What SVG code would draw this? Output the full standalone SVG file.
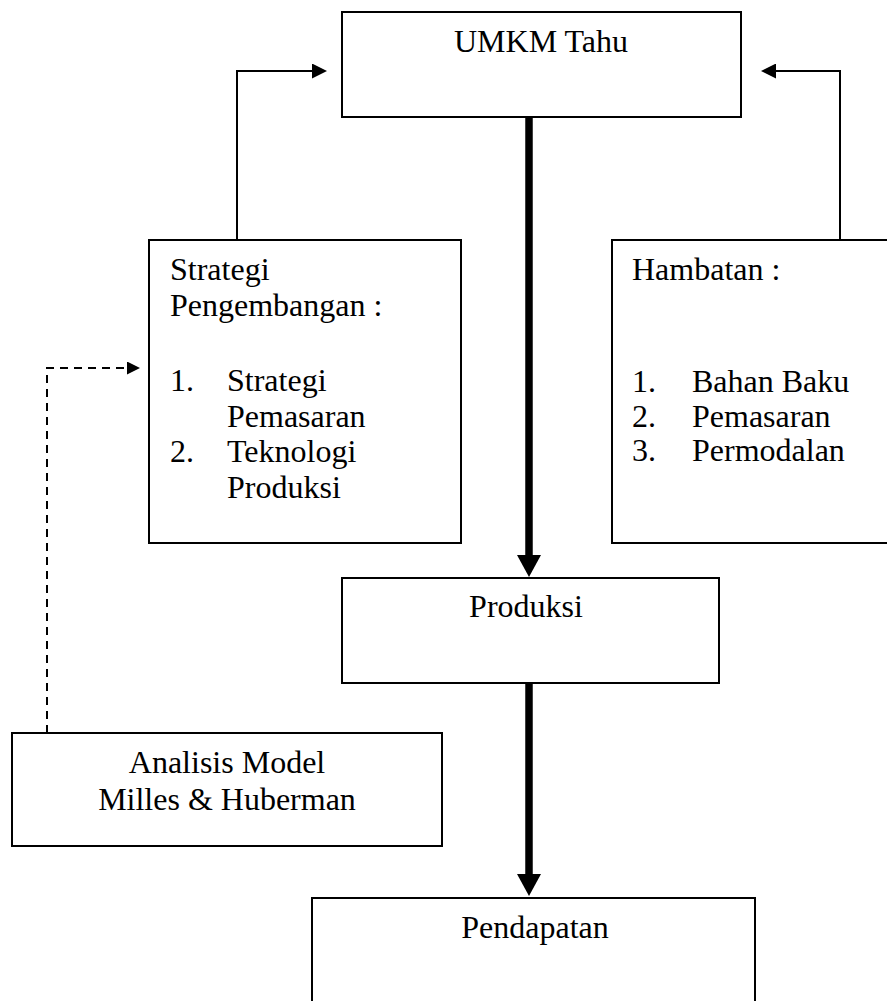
<svg xmlns="http://www.w3.org/2000/svg" width="887" height="1001" viewBox="0 0 887 1001">
<style>
.box{fill:#fff;stroke:#000;stroke-width:2}
.t{font-family:"Liberation Serif","Times New Roman",serif;font-size:32px;fill:#000}
.c{text-anchor:middle}
.thin{fill:none;stroke:#000;stroke-width:2}
.dash{fill:none;stroke:#000;stroke-width:2;stroke-dasharray:8 6}
.thick{fill:none;stroke:#000;stroke-width:7.5}
</style>
<defs>
<marker id="ah" markerUnits="userSpaceOnUse" markerWidth="15" markerHeight="15" refX="0" refY="7.5" orient="auto">
<path d="M0,0 L15,7.5 L0,15 z" fill="#000"/>
</marker>
<marker id="ahs" markerUnits="userSpaceOnUse" markerWidth="13" markerHeight="13" refX="0" refY="6.5" orient="auto">
<path d="M0,0 L13,6.5 L0,13 z" fill="#000"/>
</marker>
<marker id="ahb" markerUnits="userSpaceOnUse" markerWidth="22" markerHeight="24" refX="0" refY="12" orient="auto">
<path d="M0,0 L22,12 L0,24 z" fill="#000"/>
</marker>
</defs>
<rect width="887" height="1001" fill="#fff"/>
<g id="connectors">
<path class="thin" d="M237,240 V71 H312" marker-end="url(#ah)"/>
<path class="thin" d="M840,240 V71 H776" marker-end="url(#ah)"/>
<path class="thick" d="M529,117 V555" marker-end="url(#ahb)"/>
<path class="thick" d="M529,684 V874" marker-end="url(#ahb)"/>
<path class="dash" d="M47,733 V368 H127" marker-end="url(#ahs)"/>
</g>
<g id="umkm">
<rect class="box" x="342" y="12" width="399" height="105"/>
<text class="t c" x="541" y="52">UMKM Tahu</text>
</g>
<g id="strategi">
<rect class="box" x="149" y="240" width="312" height="303"/>
<text class="t" x="170" y="280">Strategi</text>
<text class="t" x="170" y="316">Pengembangan :</text>
<text class="t" x="170" y="391">1.</text>
<text class="t" x="227" y="391">Strategi</text>
<text class="t" x="227" y="427">Pemasaran</text>
<text class="t" x="170" y="462">2.</text>
<text class="t" x="227" y="462">Teknologi</text>
<text class="t" x="227" y="498">Produksi</text>
</g>
<g id="hambatan">
<rect class="box" x="612" y="240" width="300" height="303"/>
<text class="t" x="632" y="280">Hambatan :</text>
<text class="t" x="632" y="392">1.</text>
<text class="t" x="692" y="392">Bahan Baku</text>
<text class="t" x="632" y="427">2.</text>
<text class="t" x="692" y="427">Pemasaran</text>
<text class="t" x="632" y="461">3.</text>
<text class="t" x="692" y="461">Permodalan</text>
</g>
<g id="produksi">
<rect class="box" x="342" y="578" width="377" height="105"/>
<text class="t c" x="526" y="617">Produksi</text>
</g>
<g id="analisis">
<rect class="box" x="12" y="733" width="430" height="113"/>
<text class="t c" x="227" y="773">Analisis Model</text>
<text class="t c" x="227" y="810">Milles &amp; Huberman</text>
</g>
<g id="pendapatan">
<rect class="box" x="312" y="898" width="443" height="130"/>
<text class="t c" x="535" y="938">Pendapatan</text>
</g>
</svg>
